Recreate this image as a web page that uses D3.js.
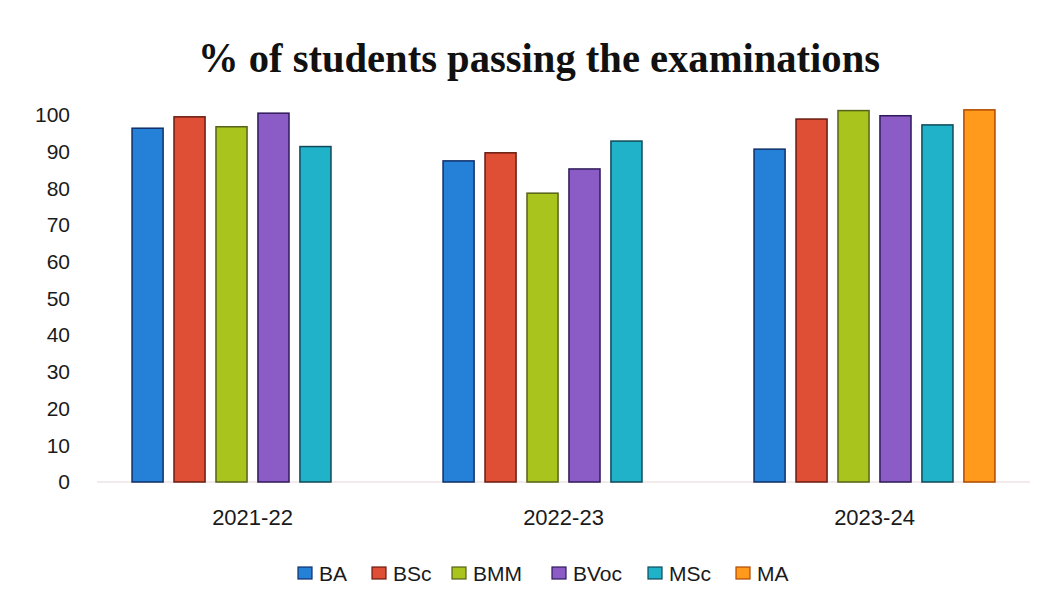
<!DOCTYPE html>
<html><head><meta charset="utf-8">
<script src="https://cdn.jsdelivr.net/npm/d3@7"></script>
<style>body{margin:0;background:#fff}svg{display:block}</style>
</head><body>
<script>
const categories = ["2021-22", "2022-23", "2023-24"];
const seriesNames = ["BA", "BSc", "BMM", "BVoc", "MSc", "MA"];
const BA   = [96.4, 87.5, 90.7];
const BSc  = [99.5, 89.7, 98.9];
const BMM  = [96.8, 78.7, 101.2];
const BVoc = [100.5, 85.3, 99.8];
const MSc  = [91.4, 92.9, 97.3];
const MA   = [null, null, 101.4];
const yTicks = [0, 10, 20, 30, 40, 50, 60, 70, 80, 90, 100];
const titleText = "% of students passing the examinations";

const seriesValues = [BA, BSc, BMM, BVoc, MSc, MA];
const fills = ["#2580d8", "#de4f36", "#a9c41c", "#8c5cc6", "#20b2c9", "#ff9a1c"];
const strokes = ["#10306a", "#6a1c10", "#55621a", "#2e1a5a", "#104a5a", "#b04a00"];

const W = 1052, H = 600;
const svg = d3.select("body").append("svg").attr("width", W).attr("height", H);

const x0 = d3.scaleBand().domain(categories).range([97, 1030]).paddingInner(0).paddingOuter(0);
const x1 = d3.scaleBand().domain(seriesNames).range([0, x0.bandwidth()]).paddingInner(0.26).paddingOuter(0.835);
const y = d3.scaleLinear().domain([0, 100]).range([482, 115]);

svg.append("text").attr("x", 198).attr("y", 72).attr("text-anchor", "start")
  .attr("font-family", "'Liberation Serif', 'Times New Roman', serif").attr("font-weight", "bold")
  .attr("font-size", 42).attr("textLength", 682).attr("lengthAdjust", "spacingAndGlyphs")
  .attr("fill", "#111").text(titleText);

// y axis
const yAxis = d3.axisLeft(y).tickValues(yTicks).tickSize(0).tickPadding(0);
const gy = svg.append("g").attr("transform", "translate(70,0)").call(yAxis);
gy.select(".domain").remove();
gy.selectAll("text").attr("font-family", "'Liberation Sans', Arial, sans-serif").attr("font-size", 21).attr("fill", "#1a1a1a");

// baseline
svg.append("line").attr("x1", 97).attr("x2", 1030).attr("y1", y(0)).attr("y2", y(0))
  .attr("stroke", "#e6d6d8").attr("stroke-width", 1.2);

// bars
const data = [];
categories.forEach((c, i) => seriesNames.forEach((s, j) => {
  const v = seriesValues[j][i];
  if (v != null) data.push({c, s, j, v});
}));
svg.append("g").selectAll("rect").data(data).join("rect")
  .attr("x", d => x0(d.c) + x1(d.s))
  .attr("y", d => y(d.v))
  .attr("width", x1.bandwidth())
  .attr("height", d => y(0) - y(d.v))
  .attr("fill", d => fills[d.j])
  .attr("stroke", d => strokes[d.j]).attr("stroke-width", 1.5);

// x axis
const xAxis = d3.axisBottom(x0).tickSize(0).tickPadding(0);
const gx = svg.append("g").attr("transform", "translate(0,525)").call(xAxis);
gx.select(".domain").remove();
gx.selectAll("text").attr("dy", 0).attr("font-family", "'Liberation Sans', Arial, sans-serif").attr("font-size", 22).attr("fill", "#1a1a1a");

// legend
const legendX = [298, 372, 452, 552, 648, 736];
const lg = svg.append("g").selectAll("g").data(seriesNames).join("g")
  .attr("transform", (d, i) => `translate(${legendX[i]},573)`);
lg.append("rect").attr("x", 0).attr("y", -6).attr("width", 14).attr("height", 12)
  .attr("fill", (d, i) => fills[i]).attr("stroke", (d, i) => strokes[i]).attr("stroke-width", 1.2);
lg.append("text").attr("x", 21).attr("y", 7.5).attr("font-family", "'Liberation Sans', Arial, sans-serif")
  .attr("font-size", 21).attr("fill", "#1a1a1a").text(d => d);
</script>
</body></html>
